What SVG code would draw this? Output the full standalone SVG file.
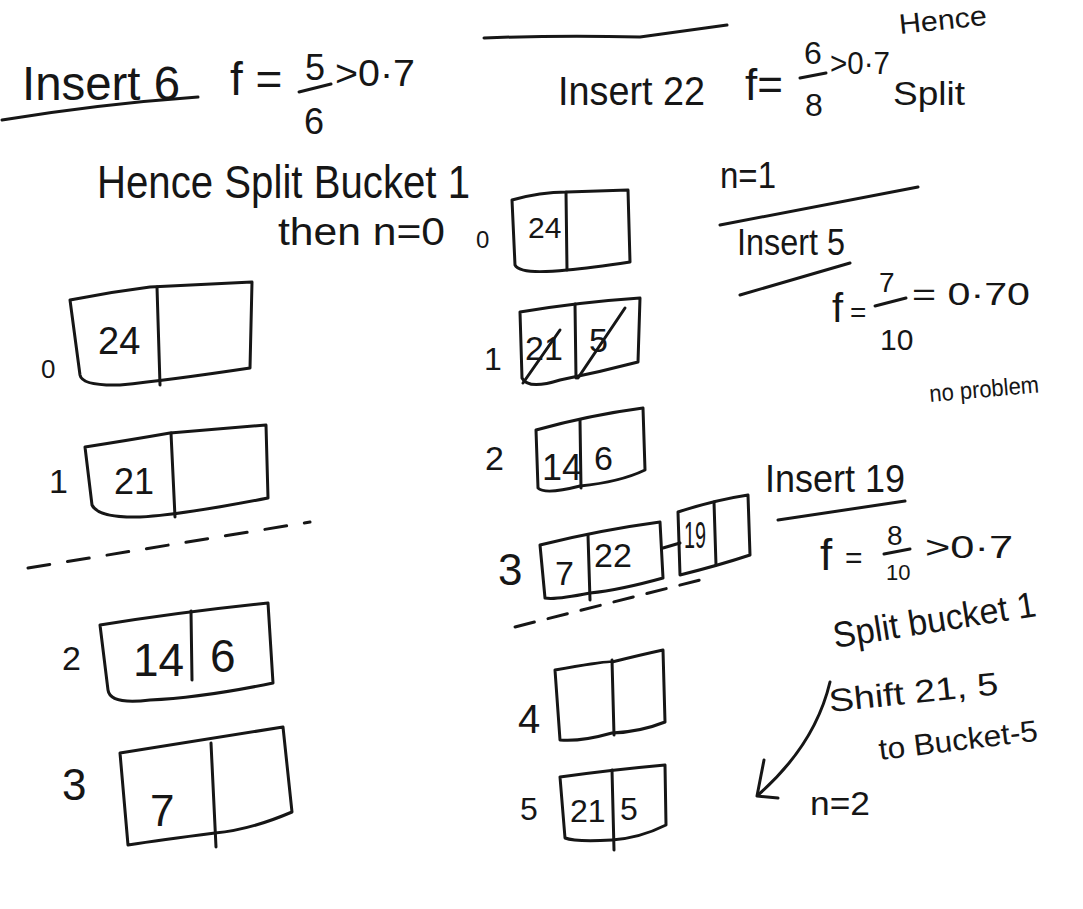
<svg xmlns="http://www.w3.org/2000/svg" width="1083" height="909" viewBox="0 0 1083 909">
<style>
.ink{fill:none;stroke:#161616;stroke-width:3;stroke-linecap:round;stroke-linejoin:round}
.t{font-family:"Liberation Sans","DejaVu Sans",sans-serif;fill:#161616}
.dash{fill:none;stroke:#161616;stroke-width:3;stroke-linecap:round;stroke-dasharray:22 18}
</style>
<rect width="1083" height="909" fill="#ffffff"/>

<g id="note-insert6">
<text class="t" x="22" y="100" font-size="48" textLength="158" lengthAdjust="spacingAndGlyphs">Insert 6</text>
<path class="ink" d="M2,120 Q100,104 198,97"/>
<text class="t" x="230" y="95" font-size="46">f =</text>
<text class="t" x="305" y="80" font-size="36">5</text>
<path class="ink" d="M299,92 L331,84"/>
<text class="t" x="304" y="134" font-size="36">6</text>
<text class="t" x="335" y="86" font-size="36" textLength="80" lengthAdjust="spacingAndGlyphs">&gt;0·7</text>
<text class="t" x="97" y="198" font-size="46" textLength="373" lengthAdjust="spacingAndGlyphs">Hence Split Bucket 1</text>
<text class="t" x="278" y="245" font-size="38" textLength="167" lengthAdjust="spacingAndGlyphs">then n=0</text>
</g>

<g id="left-bucket-0">
<text class="t" x="41" y="378" font-size="26">0</text>
<path class="ink" d="M70,300 Q110,292 150,287 L252,282 L250,368 Q170,380 120,385 Q82,386 80,375 Z"/>
<path class="ink" d="M157,287 L160,385"/>
<text class="t" x="98" y="354" font-size="38">24</text>
</g>

<g id="left-bucket-1">
<text class="t" x="49" y="493" font-size="34">1</text>
<path class="ink" d="M85,447 Q130,440 170,433 L266,425 L268,498 Q180,515 140,517 Q98,518 92,505 Z"/>
<path class="ink" d="M171,433 L175,517"/>
<text class="t" x="114" y="494" font-size="36">21</text>
</g>

<path class="dash" d="M28,568 L310,522"/>

<g id="left-bucket-2">
<text class="t" x="62" y="670" font-size="34">2</text>
<path class="ink" d="M100,625 Q180,612 268,603 L273,683 Q200,698 150,700 Q110,705 108,690 Z"/>
<path class="ink" d="M191,611 L192,680"/>
<text class="t" x="133" y="676" font-size="46">14</text>
<text class="t" x="210" y="672" font-size="46">6</text>
</g>

<g id="left-bucket-3">
<text class="t" x="62" y="800" font-size="44">3</text>
<path class="ink" d="M120,753 Q200,740 283,727 L292,812 Q250,830 215,833 Q160,840 128,845 Z"/>
<path class="ink" d="M211,743 L216,847"/>
<text class="t" x="150" y="826" font-size="44">7</text>
</g>

<g id="note-insert22">
<path class="ink" d="M484,38 Q560,35 640,37 Q690,30 727,25"/>
<text class="t" x="558" y="105" font-size="40" textLength="147" lengthAdjust="spacingAndGlyphs">Insert 22</text>
<text class="t" x="745" y="100" font-size="44">f=</text>
<text class="t" x="804" y="64" font-size="32">6</text>
<path class="ink" d="M800,78 L826,73"/>
<text class="t" x="805" y="116" font-size="32">8</text>
<text class="t" x="830" y="74" font-size="32" textLength="60" lengthAdjust="spacingAndGlyphs">&gt;0·7</text>
<text class="t" x="900" y="34" font-size="28" textLength="88" lengthAdjust="spacingAndGlyphs" transform="rotate(-6 900 34)">Hence</text>
<text class="t" x="893" y="105" font-size="34" textLength="72" lengthAdjust="spacingAndGlyphs">Split</text>
<text class="t" x="720" y="188" font-size="36" textLength="56" lengthAdjust="spacingAndGlyphs">n=1</text>
<path class="ink" d="M720,225 L918,187"/>
</g>

<g id="note-insert5">
<text class="t" x="737" y="255" font-size="36" textLength="108" lengthAdjust="spacingAndGlyphs">Insert 5</text>
<path class="ink" d="M740,295 L850,263"/>
<text class="t" x="832" y="322" font-size="40">f</text>
<text class="t" x="850" y="322" font-size="28">=</text>
<text class="t" x="879" y="292" font-size="28">7</text>
<path class="ink" d="M875,306 L906,298"/>
<text class="t" x="880" y="350" font-size="30">10</text>
<text class="t" x="912" y="305" font-size="32" textLength="118" lengthAdjust="spacingAndGlyphs">= 0·70</text>
<text class="t" x="930" y="402" font-size="24" textLength="110" lengthAdjust="spacingAndGlyphs" transform="rotate(-5 930 402)">no problem</text>
</g>

<g id="mid-bucket-0">
<text class="t" x="476" y="248" font-size="24">0</text>
<path class="ink" d="M512,200 Q540,192 567,192 L628,190 L630,262 Q590,268 567,270 Q520,275 515,265 Z"/>
<path class="ink" d="M566,192 L567,270"/>
<text class="t" x="528" y="238" font-size="30">24</text>
</g>

<g id="mid-bucket-1">
<text class="t" x="484" y="370" font-size="32">1</text>
<path class="ink" d="M520,312 Q580,302 640,298 L638,362 Q600,372 560,380 Q528,390 522,378 Z"/>
<path class="ink" d="M575,304 L576,378"/>
<text class="t" x="525" y="360" font-size="34">21</text>
<text class="t" x="589" y="352" font-size="34">5</text>
<path class="ink" d="M523,383 L560,330"/>
<path class="ink" d="M578,378 L625,308"/>
</g>

<g id="mid-bucket-2">
<text class="t" x="485" y="470" font-size="34">2</text>
<path class="ink" d="M536,430 Q590,415 643,408 L645,470 Q620,482 580,486 Q545,495 538,488 Z"/>
<path class="ink" d="M580,420 L581,488"/>
<text class="t" x="542" y="480" font-size="36">14</text>
<text class="t" x="594" y="470" font-size="34">6</text>
</g>

<g id="note-insert19">
<text class="t" x="765" y="492" font-size="38" textLength="140" lengthAdjust="spacingAndGlyphs">Insert 19</text>
<path class="ink" d="M778,520 L905,501"/>
<text class="t" x="820" y="570" font-size="44">f</text>
<text class="t" x="845" y="568" font-size="30">=</text>
<text class="t" x="887" y="545" font-size="28">8</text>
<path class="ink" d="M884,554 L910,549"/>
<text class="t" x="886" y="580" font-size="22">10</text>
<text class="t" x="925" y="558" font-size="32" textLength="88" lengthAdjust="spacingAndGlyphs">&gt;0·7</text>
<text class="t" x="835" y="648" font-size="36" textLength="205" lengthAdjust="spacingAndGlyphs" transform="rotate(-9 835 648)">Split bucket 1</text>
<text class="t" x="830" y="712" font-size="32" textLength="170" lengthAdjust="spacingAndGlyphs" transform="rotate(-6 830 712)">Shift 21, 5</text>
<text class="t" x="880" y="760" font-size="30" textLength="160" lengthAdjust="spacingAndGlyphs" transform="rotate(-7 880 760)">to Bucket-5</text>
<text class="t" x="810" y="815" font-size="34" textLength="60" lengthAdjust="spacingAndGlyphs">n=2</text>
</g>

<g id="mid-bucket-3">
<text class="t" x="498" y="585" font-size="44">3</text>
<path class="ink" d="M540,545 Q600,530 660,522 L663,578 Q620,590 590,593 Q555,600 545,598 Z"/>
<path class="ink" d="M588,535 L590,600"/>
<text class="t" x="555" y="585" font-size="34">7</text>
<text class="t" x="594" y="567" font-size="34">22</text>
</g>

<g id="mid-bucket-3-overflow">
<path class="ink" d="M678,512 Q715,500 748,495 L750,555 Q720,565 680,575 Z"/>
<path class="ink" d="M714,502 L716,565"/>
<text class="t" x="684" y="548" font-size="36" textLength="22" lengthAdjust="spacingAndGlyphs">19</text>
</g>

<path class="dash" d="M515,627 L700,580" style="stroke-dasharray:20 14"/>

<g id="mid-bucket-4">
<text class="t" x="518" y="733" font-size="40">4</text>
<path class="ink" d="M555,670 Q610,660 612,662 Q640,655 663,650 L665,722 Q640,732 612,733 Q580,742 560,740 Z"/>
<path class="ink" d="M612,660 L614,735"/>
</g>

<g id="mid-bucket-5">
<text class="t" x="520" y="820" font-size="32">5</text>
<path class="ink" d="M560,777 Q610,770 665,765 L666,825 Q640,838 612,840 Q575,842 565,838 Z"/>
<path class="ink" d="M612,770 L614,850"/>
<text class="t" x="570" y="822" font-size="32">21</text>
<text class="t" x="620" y="820" font-size="32">5</text>
</g>

<g id="connectors">
<path class="ink" d="M663,548 L680,543"/>
<path class="ink" d="M830,682 Q815,745 758,795"/>
<path class="ink" d="M764,760 L757,796 L778,798"/>
</g>
</svg>
